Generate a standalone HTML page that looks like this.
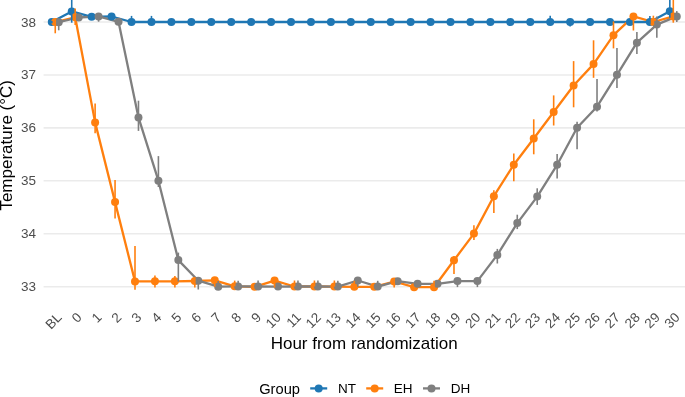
<!DOCTYPE html><html><head><meta charset="utf-8"><style>html,body{margin:0;padding:0;background:#fff;width:685px;height:397px;overflow:hidden}svg{display:block;will-change:transform}text{font-family:"Liberation Sans",sans-serif}</style></head><body>
<svg width="685" height="397" viewBox="0 0 685 397">
<rect width="685" height="397" fill="#fff"/>
<line x1="43.6" x2="685" y1="286.70" y2="286.70" stroke="#EBEBEB" stroke-width="1.6"/>
<line x1="43.6" x2="685" y1="233.76" y2="233.76" stroke="#EBEBEB" stroke-width="1.6"/>
<line x1="43.6" x2="685" y1="180.82" y2="180.82" stroke="#EBEBEB" stroke-width="1.6"/>
<line x1="43.6" x2="685" y1="127.88" y2="127.88" stroke="#EBEBEB" stroke-width="1.6"/>
<line x1="43.6" x2="685" y1="74.94" y2="74.94" stroke="#EBEBEB" stroke-width="1.6"/>
<line x1="43.6" x2="685" y1="22.00" y2="22.00" stroke="#EBEBEB" stroke-width="1.6"/>
<polyline points="51.78,22.00 71.72,11.40 91.65,16.80 111.59,16.50 131.53,22.00 151.47,22.00 171.40,22.00 191.34,22.00 211.28,22.00 231.21,22.00 251.15,22.00 271.09,22.00 291.02,22.00 310.96,22.00 330.90,22.00 350.83,22.00 370.77,22.00 390.71,22.00 410.65,22.00 430.58,22.00 450.52,22.00 470.46,22.00 490.39,22.00 510.33,22.00 530.27,22.00 550.20,22.00 570.14,22.00 590.08,22.00 610.02,22.00 629.95,22.00 649.89,22.00 669.83,11.20" fill="none" stroke="#1F77B4" stroke-width="2.3" stroke-linejoin="round" stroke-linecap="butt"/>
<polyline points="55.25,22.00 75.19,17.30 95.12,122.40 115.06,202.10 135.00,281.40 154.94,281.30 174.87,281.30 194.81,281.00 214.75,280.30 234.68,286.30 254.62,286.80 274.56,280.60 294.49,286.50 314.43,286.50 334.37,286.60 354.31,286.80 374.24,286.80 394.18,281.50 414.12,287.20 434.05,287.20 453.99,260.20 473.93,233.60 493.86,196.20 513.80,164.70 533.74,138.50 553.67,112.00 573.61,85.50 593.55,64.10 613.49,35.20 633.42,16.40 653.36,22.00 673.30,16.40" fill="none" stroke="#FF7F0E" stroke-width="2.3" stroke-linejoin="round" stroke-linecap="butt"/>
<polyline points="58.72,22.20 78.66,17.50 98.59,16.40 118.53,21.80 138.47,117.40 158.41,180.70 178.34,260.10 198.28,280.70 218.22,286.70 238.15,286.40 258.09,286.50 278.03,286.60 297.96,286.50 317.90,286.50 337.84,286.60 357.78,280.50 377.71,286.60 397.65,281.20 417.59,283.80 437.52,283.80 457.46,281.10 477.40,281.10 497.33,254.90 517.27,223.10 537.21,196.60 557.14,164.80 577.08,127.80 597.02,106.70 616.96,74.80 636.89,42.70 656.83,24.60 676.77,16.40" fill="none" stroke="#7F7F7F" stroke-width="2.3" stroke-linejoin="round" stroke-linecap="butt"/>
<circle cx="51.78" cy="22.00" r="4.0" fill="#1F77B4"/>
<circle cx="71.72" cy="11.40" r="4.0" fill="#1F77B4"/>
<circle cx="91.65" cy="16.80" r="4.0" fill="#1F77B4"/>
<circle cx="111.59" cy="16.50" r="4.0" fill="#1F77B4"/>
<circle cx="131.53" cy="22.00" r="4.0" fill="#1F77B4"/>
<circle cx="151.47" cy="22.00" r="4.0" fill="#1F77B4"/>
<circle cx="171.40" cy="22.00" r="4.0" fill="#1F77B4"/>
<circle cx="191.34" cy="22.00" r="4.0" fill="#1F77B4"/>
<circle cx="211.28" cy="22.00" r="4.0" fill="#1F77B4"/>
<circle cx="231.21" cy="22.00" r="4.0" fill="#1F77B4"/>
<circle cx="251.15" cy="22.00" r="4.0" fill="#1F77B4"/>
<circle cx="271.09" cy="22.00" r="4.0" fill="#1F77B4"/>
<circle cx="291.02" cy="22.00" r="4.0" fill="#1F77B4"/>
<circle cx="310.96" cy="22.00" r="4.0" fill="#1F77B4"/>
<circle cx="330.90" cy="22.00" r="4.0" fill="#1F77B4"/>
<circle cx="350.83" cy="22.00" r="4.0" fill="#1F77B4"/>
<circle cx="370.77" cy="22.00" r="4.0" fill="#1F77B4"/>
<circle cx="390.71" cy="22.00" r="4.0" fill="#1F77B4"/>
<circle cx="410.65" cy="22.00" r="4.0" fill="#1F77B4"/>
<circle cx="430.58" cy="22.00" r="4.0" fill="#1F77B4"/>
<circle cx="450.52" cy="22.00" r="4.0" fill="#1F77B4"/>
<circle cx="470.46" cy="22.00" r="4.0" fill="#1F77B4"/>
<circle cx="490.39" cy="22.00" r="4.0" fill="#1F77B4"/>
<circle cx="510.33" cy="22.00" r="4.0" fill="#1F77B4"/>
<circle cx="530.27" cy="22.00" r="4.0" fill="#1F77B4"/>
<circle cx="550.20" cy="22.00" r="4.0" fill="#1F77B4"/>
<circle cx="570.14" cy="22.00" r="4.0" fill="#1F77B4"/>
<circle cx="590.08" cy="22.00" r="4.0" fill="#1F77B4"/>
<circle cx="610.02" cy="22.00" r="4.0" fill="#1F77B4"/>
<circle cx="629.95" cy="22.00" r="4.0" fill="#1F77B4"/>
<circle cx="649.89" cy="22.00" r="4.0" fill="#1F77B4"/>
<circle cx="669.83" cy="11.20" r="4.0" fill="#1F77B4"/>
<circle cx="55.25" cy="22.00" r="4.0" fill="#FF7F0E"/>
<circle cx="75.19" cy="17.30" r="4.0" fill="#FF7F0E"/>
<circle cx="95.12" cy="122.40" r="4.0" fill="#FF7F0E"/>
<circle cx="115.06" cy="202.10" r="4.0" fill="#FF7F0E"/>
<circle cx="135.00" cy="281.40" r="4.0" fill="#FF7F0E"/>
<circle cx="154.94" cy="281.30" r="4.0" fill="#FF7F0E"/>
<circle cx="174.87" cy="281.30" r="4.0" fill="#FF7F0E"/>
<circle cx="194.81" cy="281.00" r="4.0" fill="#FF7F0E"/>
<circle cx="214.75" cy="280.30" r="4.0" fill="#FF7F0E"/>
<circle cx="234.68" cy="286.30" r="4.0" fill="#FF7F0E"/>
<circle cx="254.62" cy="286.80" r="4.0" fill="#FF7F0E"/>
<circle cx="274.56" cy="280.60" r="4.0" fill="#FF7F0E"/>
<circle cx="294.49" cy="286.50" r="4.0" fill="#FF7F0E"/>
<circle cx="314.43" cy="286.50" r="4.0" fill="#FF7F0E"/>
<circle cx="334.37" cy="286.60" r="4.0" fill="#FF7F0E"/>
<circle cx="354.31" cy="286.80" r="4.0" fill="#FF7F0E"/>
<circle cx="374.24" cy="286.80" r="4.0" fill="#FF7F0E"/>
<circle cx="394.18" cy="281.50" r="4.0" fill="#FF7F0E"/>
<circle cx="414.12" cy="287.20" r="4.0" fill="#FF7F0E"/>
<circle cx="434.05" cy="287.20" r="4.0" fill="#FF7F0E"/>
<circle cx="453.99" cy="260.20" r="4.0" fill="#FF7F0E"/>
<circle cx="473.93" cy="233.60" r="4.0" fill="#FF7F0E"/>
<circle cx="493.86" cy="196.20" r="4.0" fill="#FF7F0E"/>
<circle cx="513.80" cy="164.70" r="4.0" fill="#FF7F0E"/>
<circle cx="533.74" cy="138.50" r="4.0" fill="#FF7F0E"/>
<circle cx="553.67" cy="112.00" r="4.0" fill="#FF7F0E"/>
<circle cx="573.61" cy="85.50" r="4.0" fill="#FF7F0E"/>
<circle cx="593.55" cy="64.10" r="4.0" fill="#FF7F0E"/>
<circle cx="613.49" cy="35.20" r="4.0" fill="#FF7F0E"/>
<circle cx="633.42" cy="16.40" r="4.0" fill="#FF7F0E"/>
<circle cx="653.36" cy="22.00" r="4.0" fill="#FF7F0E"/>
<circle cx="673.30" cy="16.40" r="4.0" fill="#FF7F0E"/>
<circle cx="58.72" cy="22.20" r="4.0" fill="#7F7F7F"/>
<circle cx="78.66" cy="17.50" r="4.0" fill="#7F7F7F"/>
<circle cx="98.59" cy="16.40" r="4.0" fill="#7F7F7F"/>
<circle cx="118.53" cy="21.80" r="4.0" fill="#7F7F7F"/>
<circle cx="138.47" cy="117.40" r="4.0" fill="#7F7F7F"/>
<circle cx="158.41" cy="180.70" r="4.0" fill="#7F7F7F"/>
<circle cx="178.34" cy="260.10" r="4.0" fill="#7F7F7F"/>
<circle cx="198.28" cy="280.70" r="4.0" fill="#7F7F7F"/>
<circle cx="218.22" cy="286.70" r="4.0" fill="#7F7F7F"/>
<circle cx="238.15" cy="286.40" r="4.0" fill="#7F7F7F"/>
<circle cx="258.09" cy="286.50" r="4.0" fill="#7F7F7F"/>
<circle cx="278.03" cy="286.60" r="4.0" fill="#7F7F7F"/>
<circle cx="297.96" cy="286.50" r="4.0" fill="#7F7F7F"/>
<circle cx="317.90" cy="286.50" r="4.0" fill="#7F7F7F"/>
<circle cx="337.84" cy="286.60" r="4.0" fill="#7F7F7F"/>
<circle cx="357.78" cy="280.50" r="4.0" fill="#7F7F7F"/>
<circle cx="377.71" cy="286.60" r="4.0" fill="#7F7F7F"/>
<circle cx="397.65" cy="281.20" r="4.0" fill="#7F7F7F"/>
<circle cx="417.59" cy="283.80" r="4.0" fill="#7F7F7F"/>
<circle cx="437.52" cy="283.80" r="4.0" fill="#7F7F7F"/>
<circle cx="457.46" cy="281.10" r="4.0" fill="#7F7F7F"/>
<circle cx="477.40" cy="281.10" r="4.0" fill="#7F7F7F"/>
<circle cx="497.33" cy="254.90" r="4.0" fill="#7F7F7F"/>
<circle cx="517.27" cy="223.10" r="4.0" fill="#7F7F7F"/>
<circle cx="537.21" cy="196.60" r="4.0" fill="#7F7F7F"/>
<circle cx="557.14" cy="164.80" r="4.0" fill="#7F7F7F"/>
<circle cx="577.08" cy="127.80" r="4.0" fill="#7F7F7F"/>
<circle cx="597.02" cy="106.70" r="4.0" fill="#7F7F7F"/>
<circle cx="616.96" cy="74.80" r="4.0" fill="#7F7F7F"/>
<circle cx="636.89" cy="42.70" r="4.0" fill="#7F7F7F"/>
<circle cx="656.83" cy="24.60" r="4.0" fill="#7F7F7F"/>
<circle cx="676.77" cy="16.40" r="4.0" fill="#7F7F7F"/>
<line x1="51.78" x2="51.78" y1="20.90" y2="23.30" stroke="#1F77B4" stroke-width="1.6"/>
<line x1="71.72" x2="71.72" y1="-2.00" y2="22.70" stroke="#1F77B4" stroke-width="1.6"/>
<line x1="91.65" x2="91.65" y1="14.50" y2="19.00" stroke="#1F77B4" stroke-width="1.6"/>
<line x1="111.59" x2="111.59" y1="14.00" y2="19.00" stroke="#1F77B4" stroke-width="1.6"/>
<line x1="131.53" x2="131.53" y1="15.90" y2="24.00" stroke="#1F77B4" stroke-width="1.6"/>
<line x1="151.47" x2="151.47" y1="15.90" y2="24.00" stroke="#1F77B4" stroke-width="1.6"/>
<line x1="550.20" x2="550.20" y1="15.80" y2="24.00" stroke="#1F77B4" stroke-width="1.6"/>
<line x1="570.14" x2="570.14" y1="20.00" y2="26.40" stroke="#1F77B4" stroke-width="1.6"/>
<line x1="649.89" x2="649.89" y1="16.00" y2="24.50" stroke="#1F77B4" stroke-width="1.6"/>
<line x1="669.83" x2="669.83" y1="-2.00" y2="17.80" stroke="#1F77B4" stroke-width="1.6"/>
<line x1="55.25" x2="55.25" y1="18.40" y2="33.30" stroke="#FF7F0E" stroke-width="1.6"/>
<line x1="75.19" x2="75.19" y1="8.40" y2="25.00" stroke="#FF7F0E" stroke-width="1.6"/>
<line x1="95.12" x2="95.12" y1="103.60" y2="133.30" stroke="#FF7F0E" stroke-width="1.6"/>
<line x1="115.06" x2="115.06" y1="180.10" y2="218.50" stroke="#FF7F0E" stroke-width="1.6"/>
<line x1="135.00" x2="135.00" y1="246.10" y2="289.80" stroke="#FF7F0E" stroke-width="1.6"/>
<line x1="154.94" x2="154.94" y1="275.60" y2="287.50" stroke="#FF7F0E" stroke-width="1.6"/>
<line x1="174.87" x2="174.87" y1="276.00" y2="287.50" stroke="#FF7F0E" stroke-width="1.6"/>
<line x1="194.81" x2="194.81" y1="278.00" y2="287.40" stroke="#FF7F0E" stroke-width="1.6"/>
<line x1="214.75" x2="214.75" y1="278.00" y2="286.70" stroke="#FF7F0E" stroke-width="1.6"/>
<line x1="234.68" x2="234.68" y1="280.60" y2="286.30" stroke="#FF7F0E" stroke-width="1.6"/>
<line x1="274.56" x2="274.56" y1="278.00" y2="287.60" stroke="#FF7F0E" stroke-width="1.6"/>
<line x1="294.49" x2="294.49" y1="280.50" y2="286.50" stroke="#FF7F0E" stroke-width="1.6"/>
<line x1="314.43" x2="314.43" y1="280.50" y2="286.50" stroke="#FF7F0E" stroke-width="1.6"/>
<line x1="334.37" x2="334.37" y1="280.50" y2="286.60" stroke="#FF7F0E" stroke-width="1.6"/>
<line x1="354.31" x2="354.31" y1="280.80" y2="286.80" stroke="#FF7F0E" stroke-width="1.6"/>
<line x1="394.18" x2="394.18" y1="278.00" y2="287.40" stroke="#FF7F0E" stroke-width="1.6"/>
<line x1="434.05" x2="434.05" y1="280.80" y2="287.20" stroke="#FF7F0E" stroke-width="1.6"/>
<line x1="453.99" x2="453.99" y1="256.00" y2="274.10" stroke="#FF7F0E" stroke-width="1.6"/>
<line x1="473.93" x2="473.93" y1="225.20" y2="240.00" stroke="#FF7F0E" stroke-width="1.6"/>
<line x1="493.86" x2="493.86" y1="190.20" y2="213.10" stroke="#FF7F0E" stroke-width="1.6"/>
<line x1="513.80" x2="513.80" y1="153.40" y2="181.30" stroke="#FF7F0E" stroke-width="1.6"/>
<line x1="533.74" x2="533.74" y1="119.30" y2="154.30" stroke="#FF7F0E" stroke-width="1.6"/>
<line x1="553.67" x2="553.67" y1="95.40" y2="125.50" stroke="#FF7F0E" stroke-width="1.6"/>
<line x1="573.61" x2="573.61" y1="61.10" y2="107.30" stroke="#FF7F0E" stroke-width="1.6"/>
<line x1="593.55" x2="593.55" y1="40.30" y2="77.80" stroke="#FF7F0E" stroke-width="1.6"/>
<line x1="613.49" x2="613.49" y1="21.40" y2="48.40" stroke="#FF7F0E" stroke-width="1.6"/>
<line x1="633.42" x2="633.42" y1="13.00" y2="30.50" stroke="#FF7F0E" stroke-width="1.6"/>
<line x1="653.36" x2="653.36" y1="15.70" y2="25.20" stroke="#FF7F0E" stroke-width="1.6"/>
<line x1="673.30" x2="673.30" y1="-2.00" y2="22.70" stroke="#FF7F0E" stroke-width="1.6"/>
<line x1="58.72" x2="58.72" y1="18.50" y2="30.30" stroke="#7F7F7F" stroke-width="1.6"/>
<line x1="78.66" x2="78.66" y1="14.00" y2="20.50" stroke="#7F7F7F" stroke-width="1.6"/>
<line x1="98.59" x2="98.59" y1="13.00" y2="21.70" stroke="#7F7F7F" stroke-width="1.6"/>
<line x1="118.53" x2="118.53" y1="19.00" y2="24.50" stroke="#7F7F7F" stroke-width="1.6"/>
<line x1="138.47" x2="138.47" y1="100.70" y2="130.90" stroke="#7F7F7F" stroke-width="1.6"/>
<line x1="158.41" x2="158.41" y1="156.10" y2="187.00" stroke="#7F7F7F" stroke-width="1.6"/>
<line x1="178.34" x2="178.34" y1="252.60" y2="281.60" stroke="#7F7F7F" stroke-width="1.6"/>
<line x1="198.28" x2="198.28" y1="278.00" y2="289.50" stroke="#7F7F7F" stroke-width="1.6"/>
<line x1="218.22" x2="218.22" y1="281.00" y2="286.70" stroke="#7F7F7F" stroke-width="1.6"/>
<line x1="238.15" x2="238.15" y1="280.80" y2="286.40" stroke="#7F7F7F" stroke-width="1.6"/>
<line x1="258.09" x2="258.09" y1="280.50" y2="286.50" stroke="#7F7F7F" stroke-width="1.6"/>
<line x1="297.96" x2="297.96" y1="280.50" y2="286.50" stroke="#7F7F7F" stroke-width="1.6"/>
<line x1="317.90" x2="317.90" y1="280.50" y2="286.50" stroke="#7F7F7F" stroke-width="1.6"/>
<line x1="337.84" x2="337.84" y1="280.80" y2="286.60" stroke="#7F7F7F" stroke-width="1.6"/>
<line x1="357.78" x2="357.78" y1="280.50" y2="286.80" stroke="#7F7F7F" stroke-width="1.6"/>
<line x1="377.71" x2="377.71" y1="280.80" y2="286.60" stroke="#7F7F7F" stroke-width="1.6"/>
<line x1="457.46" x2="457.46" y1="281.10" y2="287.10" stroke="#7F7F7F" stroke-width="1.6"/>
<line x1="477.40" x2="477.40" y1="281.10" y2="287.10" stroke="#7F7F7F" stroke-width="1.6"/>
<line x1="497.33" x2="497.33" y1="248.90" y2="263.50" stroke="#7F7F7F" stroke-width="1.6"/>
<line x1="517.27" x2="517.27" y1="214.70" y2="229.10" stroke="#7F7F7F" stroke-width="1.6"/>
<line x1="537.21" x2="537.21" y1="188.30" y2="204.90" stroke="#7F7F7F" stroke-width="1.6"/>
<line x1="557.14" x2="557.14" y1="154.00" y2="178.50" stroke="#7F7F7F" stroke-width="1.6"/>
<line x1="577.08" x2="577.08" y1="121.70" y2="149.30" stroke="#7F7F7F" stroke-width="1.6"/>
<line x1="597.02" x2="597.02" y1="79.10" y2="111.60" stroke="#7F7F7F" stroke-width="1.6"/>
<line x1="616.96" x2="616.96" y1="48.10" y2="88.10" stroke="#7F7F7F" stroke-width="1.6"/>
<line x1="636.89" x2="636.89" y1="32.10" y2="54.00" stroke="#7F7F7F" stroke-width="1.6"/>
<line x1="656.83" x2="656.83" y1="16.40" y2="37.80" stroke="#7F7F7F" stroke-width="1.6"/>
<line x1="676.77" x2="676.77" y1="11.10" y2="22.00" stroke="#7F7F7F" stroke-width="1.6"/>
<text x="36" y="291.20" font-size="13.5" fill="#4D4D4D" text-anchor="end">33</text>
<text x="36" y="238.26" font-size="13.5" fill="#4D4D4D" text-anchor="end">34</text>
<text x="36" y="185.32" font-size="13.5" fill="#4D4D4D" text-anchor="end">35</text>
<text x="36" y="132.38" font-size="13.5" fill="#4D4D4D" text-anchor="end">36</text>
<text x="36" y="79.44" font-size="13.5" fill="#4D4D4D" text-anchor="end">37</text>
<text x="36" y="26.50" font-size="13.5" fill="#4D4D4D" text-anchor="end">38</text>
<text transform="translate(55.25,310.9) rotate(-45)" x="0" y="0" dy="0.77em" font-size="13.5" fill="#4D4D4D" text-anchor="end">BL</text>
<text transform="translate(75.19,310.9) rotate(-45)" x="0" y="0" dy="0.77em" font-size="13.5" fill="#4D4D4D" text-anchor="end">0</text>
<text transform="translate(95.12,310.9) rotate(-45)" x="0" y="0" dy="0.77em" font-size="13.5" fill="#4D4D4D" text-anchor="end">1</text>
<text transform="translate(115.06,310.9) rotate(-45)" x="0" y="0" dy="0.77em" font-size="13.5" fill="#4D4D4D" text-anchor="end">2</text>
<text transform="translate(135.00,310.9) rotate(-45)" x="0" y="0" dy="0.77em" font-size="13.5" fill="#4D4D4D" text-anchor="end">3</text>
<text transform="translate(154.94,310.9) rotate(-45)" x="0" y="0" dy="0.77em" font-size="13.5" fill="#4D4D4D" text-anchor="end">4</text>
<text transform="translate(174.87,310.9) rotate(-45)" x="0" y="0" dy="0.77em" font-size="13.5" fill="#4D4D4D" text-anchor="end">5</text>
<text transform="translate(194.81,310.9) rotate(-45)" x="0" y="0" dy="0.77em" font-size="13.5" fill="#4D4D4D" text-anchor="end">6</text>
<text transform="translate(214.75,310.9) rotate(-45)" x="0" y="0" dy="0.77em" font-size="13.5" fill="#4D4D4D" text-anchor="end">7</text>
<text transform="translate(234.68,310.9) rotate(-45)" x="0" y="0" dy="0.77em" font-size="13.5" fill="#4D4D4D" text-anchor="end">8</text>
<text transform="translate(254.62,310.9) rotate(-45)" x="0" y="0" dy="0.77em" font-size="13.5" fill="#4D4D4D" text-anchor="end">9</text>
<text transform="translate(274.56,310.9) rotate(-45)" x="0" y="0" dy="0.77em" font-size="13.5" fill="#4D4D4D" text-anchor="end">10</text>
<text transform="translate(294.49,310.9) rotate(-45)" x="0" y="0" dy="0.77em" font-size="13.5" fill="#4D4D4D" text-anchor="end">11</text>
<text transform="translate(314.43,310.9) rotate(-45)" x="0" y="0" dy="0.77em" font-size="13.5" fill="#4D4D4D" text-anchor="end">12</text>
<text transform="translate(334.37,310.9) rotate(-45)" x="0" y="0" dy="0.77em" font-size="13.5" fill="#4D4D4D" text-anchor="end">13</text>
<text transform="translate(354.31,310.9) rotate(-45)" x="0" y="0" dy="0.77em" font-size="13.5" fill="#4D4D4D" text-anchor="end">14</text>
<text transform="translate(374.24,310.9) rotate(-45)" x="0" y="0" dy="0.77em" font-size="13.5" fill="#4D4D4D" text-anchor="end">15</text>
<text transform="translate(394.18,310.9) rotate(-45)" x="0" y="0" dy="0.77em" font-size="13.5" fill="#4D4D4D" text-anchor="end">16</text>
<text transform="translate(414.12,310.9) rotate(-45)" x="0" y="0" dy="0.77em" font-size="13.5" fill="#4D4D4D" text-anchor="end">17</text>
<text transform="translate(434.05,310.9) rotate(-45)" x="0" y="0" dy="0.77em" font-size="13.5" fill="#4D4D4D" text-anchor="end">18</text>
<text transform="translate(453.99,310.9) rotate(-45)" x="0" y="0" dy="0.77em" font-size="13.5" fill="#4D4D4D" text-anchor="end">19</text>
<text transform="translate(473.93,310.9) rotate(-45)" x="0" y="0" dy="0.77em" font-size="13.5" fill="#4D4D4D" text-anchor="end">20</text>
<text transform="translate(493.86,310.9) rotate(-45)" x="0" y="0" dy="0.77em" font-size="13.5" fill="#4D4D4D" text-anchor="end">21</text>
<text transform="translate(513.80,310.9) rotate(-45)" x="0" y="0" dy="0.77em" font-size="13.5" fill="#4D4D4D" text-anchor="end">22</text>
<text transform="translate(533.74,310.9) rotate(-45)" x="0" y="0" dy="0.77em" font-size="13.5" fill="#4D4D4D" text-anchor="end">23</text>
<text transform="translate(553.67,310.9) rotate(-45)" x="0" y="0" dy="0.77em" font-size="13.5" fill="#4D4D4D" text-anchor="end">24</text>
<text transform="translate(573.61,310.9) rotate(-45)" x="0" y="0" dy="0.77em" font-size="13.5" fill="#4D4D4D" text-anchor="end">25</text>
<text transform="translate(593.55,310.9) rotate(-45)" x="0" y="0" dy="0.77em" font-size="13.5" fill="#4D4D4D" text-anchor="end">26</text>
<text transform="translate(613.49,310.9) rotate(-45)" x="0" y="0" dy="0.77em" font-size="13.5" fill="#4D4D4D" text-anchor="end">27</text>
<text transform="translate(633.42,310.9) rotate(-45)" x="0" y="0" dy="0.77em" font-size="13.5" fill="#4D4D4D" text-anchor="end">28</text>
<text transform="translate(653.36,310.9) rotate(-45)" x="0" y="0" dy="0.77em" font-size="13.5" fill="#4D4D4D" text-anchor="end">29</text>
<text transform="translate(673.30,310.9) rotate(-45)" x="0" y="0" dy="0.77em" font-size="13.5" fill="#4D4D4D" text-anchor="end">30</text>
<text x="364.2" y="348.9" font-size="17" fill="#000" text-anchor="middle">Hour from randomization</text>
<text transform="translate(12.2,145.3) rotate(-90)" font-size="17" fill="#000" text-anchor="middle">Temperature (°C)</text>
<text x="259.2" y="393.6" font-size="14.7" fill="#000">Group</text>
<line x1="310.20" x2="327.20" y1="388.4" y2="388.4" stroke="#1F77B4" stroke-width="2.3"/>
<circle cx="318.7" cy="388.5" r="4.0" fill="#1F77B4"/>
<text x="338.0" y="393.3" font-size="13.5" fill="#000">NT</text>
<line x1="366.20" x2="383.20" y1="388.4" y2="388.4" stroke="#FF7F0E" stroke-width="2.3"/>
<circle cx="374.7" cy="388.5" r="4.0" fill="#FF7F0E"/>
<text x="393.8" y="393.3" font-size="13.5" fill="#000">EH</text>
<line x1="423.00" x2="440.00" y1="388.4" y2="388.4" stroke="#7F7F7F" stroke-width="2.3"/>
<circle cx="431.5" cy="388.5" r="4.0" fill="#7F7F7F"/>
<text x="450.7" y="393.3" font-size="13.5" fill="#000">DH</text>
</svg></body></html>
